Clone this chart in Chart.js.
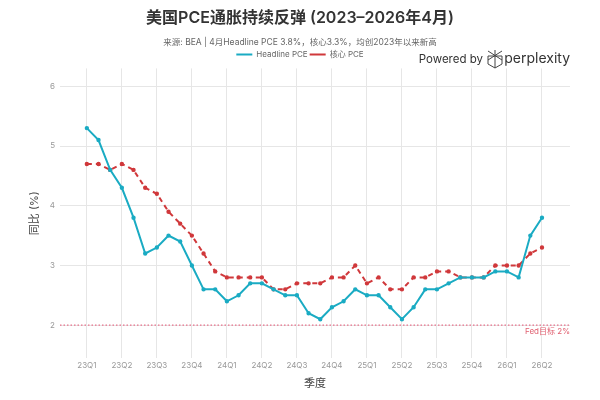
<!DOCTYPE html>
<html>
<head>
<meta charset="utf-8">
<script src="https://cdn.jsdelivr.net/npm/chart.js@4.4.1/dist/chart.umd.min.js"></script>
<style>
  html, body { margin: 0; padding: 0; background: #fff; }
</style>
</head>
<body>
<canvas id="pceChart" width="600" height="400"></canvas>
<script>
// monthly data, Jan 2023 .. Apr 2026
const quarterLabels = ['23Q1', '23Q2', '23Q3', '23Q4', '24Q1', '24Q2', '24Q3', '24Q4',
  '25Q1', '25Q2', '25Q3', '25Q4', '26Q1', '26Q2'];
const headlinePce = [5.3, 5.1, 4.6, 4.3, 3.8, 3.2, 3.3, 3.5, 3.4, 3.0, 2.6, 2.6,
  2.4, 2.5, 2.7, 2.7, 2.6, 2.5, 2.5, 2.2, 2.1, 2.3, 2.4, 2.6,
  2.5, 2.5, 2.3, 2.1, 2.3, 2.6, 2.6, 2.7, 2.8, 2.8, 2.8, 2.9,
  2.9, 2.8, 3.5, 3.8];
const corePce = [4.7, 4.7, 4.6, 4.7, 4.6, 4.3, 4.2, 3.9, 3.7, 3.5, 3.2, 2.9,
  2.8, 2.8, 2.8, 2.8, 2.6, 2.6, 2.7, 2.7, 2.7, 2.8, 2.8, 3.0,
  2.7, 2.8, 2.6, 2.6, 2.8, 2.8, 2.9, 2.9, 2.8, 2.8, 2.8, 3.0,
  3.0, 3.0, 3.2, 3.3];
const fedTarget = 2;
const yTicks = [2, 3, 4, 5, 6];

const FONT = "'Inter', 'Noto Sans CJK SC', sans-serif";
const xMin = -2.3, xMax = 41.4;

const toPoints = arr => arr.map((v, i) => ({ x: i, y: v }));

// small watermark + fed label
const extras = {
  id: 'extras',
  afterDraw(chart) {
    const ctx = chart.ctx;
    const area = chart.chartArea;
    const y2 = chart.scales.y.getPixelForValue(fedTarget);
    ctx.save();
    ctx.fillStyle = '#e06070';
    ctx.font = '8px ' + FONT;
    ctx.textAlign = 'right';
    ctx.textBaseline = 'middle';
    ctx.fillText('Fed目标 2%', area.right, y2 + 6);

    // Powered by perplexity
    ctx.fillStyle = '#333';
    ctx.textBaseline = 'middle';
    ctx.font = '14px ' + FONT;
    ctx.textAlign = 'right';
    ctx.fillText('perplexity', 570, 59);
    ctx.font = '11.5px ' + FONT;
    ctx.fillText('Powered by', 483, 60);
    // rough logo
    ctx.strokeStyle = '#444';
    ctx.lineWidth = 1;
    const cx = 495, cy = 59;
    ctx.beginPath();
    ctx.moveTo(cx, cy - 9); ctx.lineTo(cx, cy + 9);
    ctx.moveTo(cx - 7, cy - 8); ctx.lineTo(cx + 7, cy + 1);
    ctx.moveTo(cx + 7, cy - 8); ctx.lineTo(cx - 7, cy + 1);
    ctx.moveTo(cx - 7, cy - 3); ctx.lineTo(cx + 7, cy - 3);
    ctx.moveTo(cx - 7, cy - 3); ctx.lineTo(cx - 7, cy + 5); ctx.lineTo(cx, cy + 9);
    ctx.moveTo(cx + 7, cy - 3); ctx.lineTo(cx + 7, cy + 5); ctx.lineTo(cx, cy + 9);
    ctx.stroke();
    ctx.restore();
  }
};

const ctx = document.getElementById('pceChart').getContext('2d');

let pceChart = new Chart(ctx, {
  type: 'line',
  data: {
    datasets: [{
      label: 'Headline PCE',
      data: toPoints(headlinePce),
      borderColor: '#1aabc3',
      backgroundColor: '#1aabc3',
      borderWidth: 2,
      pointRadius: 1.2,
      pointHoverRadius: 1.2,
      tension: 0
    }, {
      label: '核心 PCE',
      data: toPoints(corePce),
      borderColor: '#d0383b',
      backgroundColor: '#d0383b',
      borderWidth: 2,
      borderDash: [5, 4],
      pointRadius: 1.2,
      pointHoverRadius: 1.2,
      tension: 0
    }, {
      label: 'fed',
      data: [{ x: xMin, y: fedTarget }, { x: xMax, y: fedTarget }],
      borderColor: '#e8708a',
      borderWidth: 1.2,
      borderDash: [1.5, 2],
      pointRadius: 0
    }]
  },
  options: {
    responsive: false,
    animation: false,
    layout: { padding: 0 },
    plugins: {
      title: {
        display: true,
        text: '美国PCE通胀持续反弹 (2023–2026年4月)',
        color: '#333',
        font: { family: FONT, size: 16, weight: '600' },
        padding: { top: 9, bottom: 9 }
      },
      subtitle: {
        display: true,
        text: '来源: BEA | 4月Headline PCE 3.8%，核心3.3%，均创2023年以来新高',
        color: '#666',
        font: { family: FONT, size: 8.5 },
        padding: { top: 0, bottom: 1 }
      },
      legend: {
        position: 'top',
        labels: {
          filter: item => item.text !== 'fed',
          usePointStyle: true,
          pointStyle: 'line',
          pointStyleWidth: 16,
          color: '#666',
          font: { family: FONT, size: 8 },
          padding: 2
        }
      },
      tooltip: { enabled: false }
    },
    scales: {
      x: {
        type: 'linear',
        min: xMin,
        max: xMax,
        afterBuildTicks: scale => {
          scale.ticks = quarterLabels.map((q, k) => ({ value: k * 3 }));
        },
        afterFit: scale => { scale.height = 42; },
        ticks: {
          callback: (v) => quarterLabels[v / 3],
          color: '#999',
          font: { family: FONT, size: 8 },
          maxRotation: 0,
          autoSkip: false,
          padding: 3
        },
        grid: { color: '#e6e6e6', drawTicks: false },
        border: { display: false },
        title: {
          display: true,
          text: '季度',
          color: '#444',
          font: { family: FONT, size: 11 },
          padding: { top: 0, bottom: 10 }
        }
      },
      y: {
        min: 1.45,
        max: 6.3,
        afterBuildTicks: scale => {
          scale.ticks = yTicks.map(v => ({ value: v }));
        },
        afterFit: scale => { scale.width = 60; },
        ticks: {
          color: '#999',
          font: { family: FONT, size: 8 },
          padding: 5
        },
        grid: { color: '#e6e6e6', drawTicks: false },
        border: { display: false },
        title: {
          display: true,
          text: '同比 (%)',
          color: '#444',
          font: { family: FONT, size: 11 },
          padding: { top: 28, bottom: 0 }
        }
      },
      // empty right axis, only keeps a 30px margin so titles stay centred
      yRight: {
        position: 'right',
        display: true,
        afterFit: scale => { scale.width = 30; },
        ticks: { display: false },
        grid: { display: false },
        border: { display: false }
      }
    }
  },
  plugins: [extras]
});
</script>
</body>
</html>
